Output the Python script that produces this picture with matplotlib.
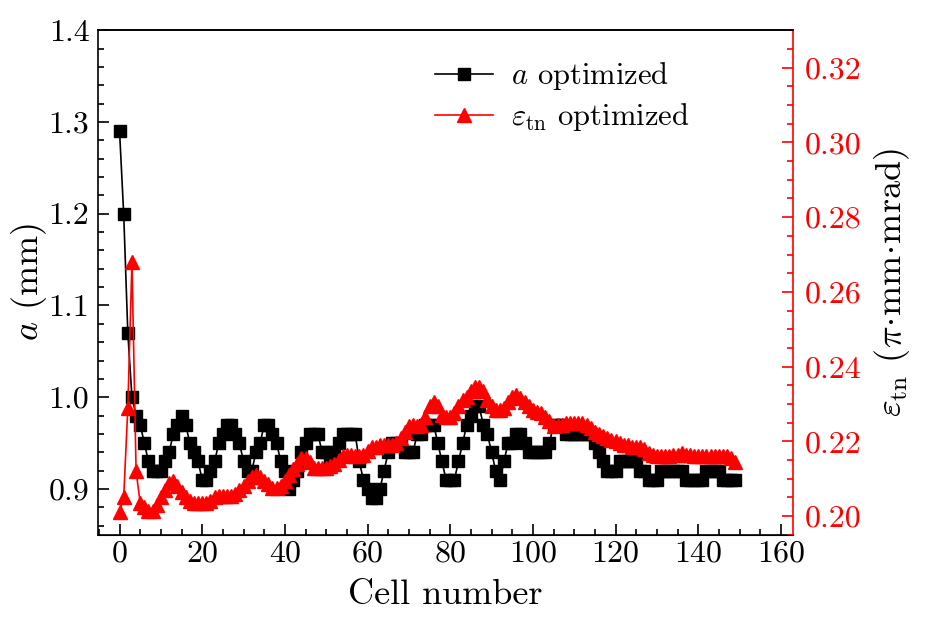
import numpy as np
import matplotlib
matplotlib.use("Agg")
import matplotlib.pyplot as plt
from matplotlib.ticker import MultipleLocator

plt.rcParams['font.family'] = 'serif'
plt.rcParams['font.serif'] = ['cmr10']
plt.rcParams['mathtext.fontset'] = 'cm'
plt.rcParams['axes.formatter.use_mathtext'] = True

# cell index
cells = np.arange(150)

# beam aperture a (mm)
a_opt = [1.29, 1.20, 1.07, 1.00, 0.98, 0.97, 0.95, 0.93, 0.92, 0.92,
         0.92, 0.93, 0.94, 0.96, 0.97, 0.98, 0.97, 0.95, 0.94, 0.93,
         0.91, 0.91, 0.92, 0.93, 0.95, 0.96, 0.97, 0.97, 0.96, 0.95,
         0.93, 0.92, 0.92, 0.94, 0.95, 0.97, 0.97, 0.96, 0.95, 0.93,
         0.92, 0.90, 0.91, 0.92, 0.94, 0.95, 0.96, 0.96, 0.96, 0.94,
         0.94, 0.93, 0.94, 0.95, 0.96, 0.96, 0.96, 0.96, 0.93, 0.91,
         0.90, 0.89, 0.89, 0.90, 0.92, 0.94, 0.95, 0.95, 0.95, 0.94,
         0.94, 0.94, 0.96, 0.96, 0.97, 0.97, 0.97, 0.95, 0.93, 0.91,
         0.91, 0.91, 0.93, 0.95, 0.97, 0.98, 0.99, 0.99, 0.97, 0.96,
         0.94, 0.92, 0.91, 0.93, 0.95, 0.95, 0.96, 0.96, 0.95, 0.94,
         0.94, 0.94, 0.94, 0.94, 0.95, 0.97, 0.97, 0.97, 0.96, 0.96,
         0.96, 0.96, 0.96, 0.96, 0.96, 0.95, 0.94, 0.93, 0.92, 0.92,
         0.92, 0.93, 0.93, 0.93, 0.93, 0.93, 0.92, 0.92, 0.91, 0.91,
         0.91, 0.92, 0.92, 0.92, 0.92, 0.92, 0.92, 0.91, 0.91, 0.91,
         0.91, 0.91, 0.92, 0.92, 0.92, 0.92, 0.91, 0.91, 0.91, 0.91]

# transverse normalized emittance (pi mm mrad)
eps_opt = [0.201, 0.205, 0.229, 0.268, 0.212, 0.2035, 0.2025, 0.2015, 0.2015, 0.203,
           0.205, 0.207, 0.209, 0.2095, 0.208, 0.2065, 0.205, 0.204, 0.2035, 0.2035,
           0.2035, 0.2035, 0.204, 0.205, 0.2055, 0.2055, 0.2055, 0.2055, 0.206, 0.207,
           0.208, 0.2095, 0.2105, 0.211, 0.2105, 0.2095, 0.2085, 0.2075, 0.2075, 0.208,
           0.2095, 0.211, 0.2125, 0.214, 0.2155, 0.2155, 0.2145, 0.213, 0.213, 0.213,
           0.213, 0.2135, 0.214, 0.215, 0.216, 0.2165, 0.2165, 0.216, 0.216, 0.2165,
           0.2175, 0.2185, 0.2185, 0.219, 0.219, 0.219, 0.219, 0.2195, 0.221, 0.2225,
           0.224, 0.2245, 0.224, 0.2245, 0.2265, 0.2295, 0.2305, 0.2295, 0.227, 0.2265,
           0.2265, 0.2275, 0.2295, 0.231, 0.232, 0.2335, 0.2345, 0.2345, 0.2335, 0.231,
           0.2295, 0.2285, 0.2285, 0.229, 0.2305, 0.232, 0.2325, 0.2315, 0.2305, 0.2295,
           0.2285, 0.228, 0.2275, 0.2265, 0.2255, 0.224, 0.2245, 0.2245, 0.225, 0.225,
           0.225, 0.225, 0.225, 0.2245, 0.2235, 0.2225, 0.222, 0.2215, 0.221, 0.2205,
           0.22, 0.2195, 0.219, 0.219, 0.2185, 0.2185, 0.2185, 0.218, 0.217, 0.2165,
           0.216, 0.216, 0.216, 0.216, 0.2165, 0.2165, 0.217, 0.2165, 0.2165, 0.216,
           0.216, 0.216, 0.216, 0.216, 0.216, 0.216, 0.216, 0.216, 0.2155, 0.2145]

fig = plt.figure(figsize=(9.3, 6.3), dpi=100)
ax = fig.add_axes([0.105, 0.151, 0.748, 0.801])
ax2 = ax.twinx()

l1, = ax.plot(cells, a_opt, color='black', marker='s', markersize=9, lw=1.2,
              label=r'$a$ optimized')
l2, = ax2.plot(cells, eps_opt, color='red', marker='^', markersize=10, lw=1.2,
               label=r'$\varepsilon_{\mathrm{tn}}$ optimized')

ax.set_xlim(-5.3, 163)
ax.set_ylim(0.85, 1.4)
ax2.set_ylim(0.195, 0.33)

ax.xaxis.set_major_locator(MultipleLocator(20))
ax.xaxis.set_minor_locator(MultipleLocator(5))
ax.yaxis.set_major_locator(MultipleLocator(0.1))
ax.yaxis.set_minor_locator(MultipleLocator(0.02))
ax.yaxis.set_major_formatter(plt.FormatStrFormatter('%.1f'))
ax2.yaxis.set_major_locator(MultipleLocator(0.02))
ax2.yaxis.set_minor_locator(MultipleLocator(0.005))
ax2.yaxis.set_major_formatter(plt.FormatStrFormatter('%.2f'))

ax.tick_params(which='both', direction='in', labelsize=23, width=1.2)
ax.tick_params(which='major', length=8)
ax.tick_params(which='minor', length=4)
ax.tick_params(axis='x', pad=4)
ax.tick_params(axis='y', pad=6)
ax2.tick_params(which='both', direction='in', labelsize=23, width=1.2,
                colors='red', pad=8)
ax2.tick_params(which='major', length=8)
ax2.tick_params(which='minor', length=4)

for s in ['left', 'bottom', 'top']:
    ax.spines[s].set_linewidth(1.2)
ax.spines['right'].set_visible(False)
ax2.spines['right'].set_color('red')
ax2.spines['right'].set_linewidth(1.2)
ax2.spines['left'].set_visible(False)
ax2.spines['top'].set_linewidth(1.2)

ax.set_xlabel('Cell number', fontsize=26, labelpad=8)
ax.set_ylabel(r'$a$ (mm)', fontsize=26, labelpad=0)
ax2.set_ylabel(r'$\varepsilon_{\mathrm{tn}}$ $(\pi\!\cdot\!\mathrm{mm}\!\cdot\!\mathrm{mrad})$',
               fontsize=26, labelpad=8)

ax2.legend(handles=[l1, l2], loc='upper right', bbox_to_anchor=(0.89, 0.995),
           frameon=False, fontsize=22, handlelength=1.9, handletextpad=0.6,
           labelspacing=0.3)

fig.savefig('out.png', dpi=100)
